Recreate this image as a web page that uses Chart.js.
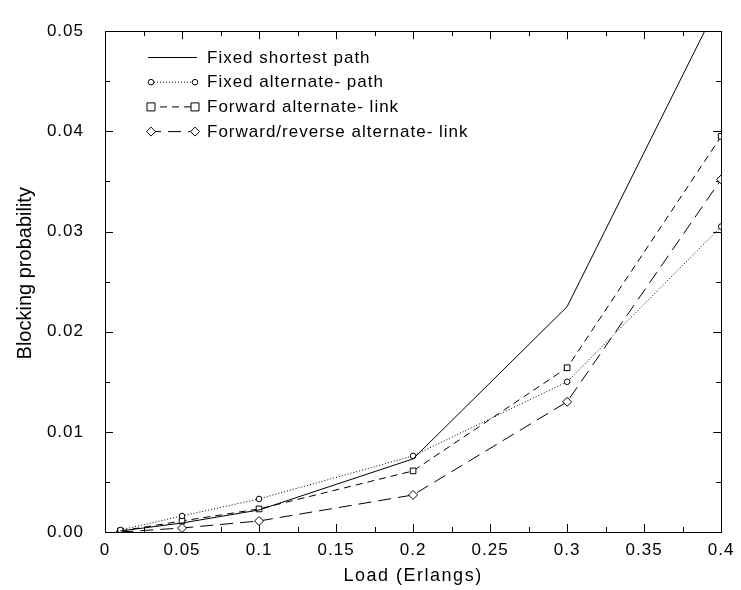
<!DOCTYPE html>
<html>
<head>
<meta charset="utf-8">
<script src="https://cdn.jsdelivr.net/npm/chart.js@4"></script>
<style>
  html, body { margin: 0; padding: 0; background: #fff; }
  canvas { display: block; }
</style>
</head>
<body>
<canvas id="chart" width="741" height="590"></canvas>
<script>
// values
const loads = [0.01, 0.05, 0.1, 0.2, 0.3, 0.4];
const fixedShortest = [0.0001, 0.0009, 0.0022, 0.0073, 0.0225, 0.0533];
const fixedAlternate = [0.0002, 0.0016, 0.0033, 0.0076, 0.0150, 0.0305];
const forwardAlternate = [0.0001, 0.0011, 0.0023, 0.0061, 0.0164, 0.0395];
const forwardReverse = [0.0000, 0.0004, 0.0011, 0.0037, 0.0130, 0.0352];
const seriesNames = [
  "Fixed shortest path",
  "Fixed alternate- path",
  "Forward alternate- link",
  "Forward/reverse alternate- link"
];

const FONT = "'Liberation Sans', Arial, sans-serif";

function pts(vals) {
  return loads.map((x, i) => ({ x: x, y: vals[i] }));
}

const base = {
  borderColor: "#000",
  borderWidth: 1,
  pointBackgroundColor: "#fff",
  pointBorderColor: "#000",
  pointBorderWidth: 1,
  tension: 0,
  fill: false
};

// frame + inward ticks (major and minor) on all four sides
const framePlugin = {
  id: "frame",
  beforeDatasetsDraw(chart) {
    const { ctx, chartArea: a, scales } = chart;
    ctx.save();
    ctx.strokeStyle = "#000";
    ctx.lineWidth = 1;
    ctx.beginPath();
    for (let k = 0; k <= 16; k++) {
      const v = k * 0.025;
      const px = Math.round(scales.x.getPixelForValue(v)) + 0.5;
      const len = k % 2 === 0 ? 8 : 5;
      ctx.moveTo(px, a.bottom); ctx.lineTo(px, a.bottom - len);
      ctx.moveTo(px, a.top); ctx.lineTo(px, a.top + len);
    }
    for (let k = 0; k <= 10; k++) {
      const v = k * 0.005;
      const py = Math.round(scales.y.getPixelForValue(v)) + 0.5;
      const len = k % 2 === 0 ? 8 : 5;
      ctx.moveTo(a.left, py); ctx.lineTo(a.left + len, py);
      ctx.moveTo(a.right, py); ctx.lineTo(a.right - len, py);
    }
    ctx.stroke();
    ctx.strokeRect(Math.round(a.left) + 0.5, Math.round(a.top) + 0.5,
      Math.round(a.right - a.left), Math.round(a.bottom - a.top));
    ctx.restore();
  }
};

function marker(ctx, style, r, x, y) {
  ctx.beginPath();
  if (style === "circle") {
    ctx.arc(x, y, r, 0, Math.PI * 2);
  } else if (style === "rect") {
    ctx.rect(x - r, y - r, r * 2, r * 2);
  } else if (style === "rectRot") {
    ctx.moveTo(x, y - r); ctx.lineTo(x + r, y); ctx.lineTo(x, y + r); ctx.lineTo(x - r, y);
    ctx.closePath();
  }
  ctx.fill();
  ctx.stroke();
}

// legend inside the plot, top left
const legendPlugin = {
  id: "insideLegend",
  afterDraw(chart) {
    const ctx = chart.ctx;
    ctx.save();
    ctx.letterSpacing = "1px";
    chart.data.datasets.forEach((ds, i) => {
      const y = 57 + i * 24.7;
      ctx.strokeStyle = "#000";
      ctx.fillStyle = "#fff";
      ctx.lineWidth = 1;
      ctx.setLineDash(ds.borderDash || []);
      ctx.beginPath();
      ctx.moveTo(148, y + 0.5);
      ctx.lineTo(197, y + 0.5);
      ctx.stroke();
      ctx.setLineDash([]);
      if (ds.pointRadius > 0) {
        marker(ctx, ds.pointStyle, ds.pointRadius, 151, y + 0.5);
        marker(ctx, ds.pointStyle, ds.pointRadius, 195, y + 0.5);
      }
      ctx.fillStyle = "#000";
      ctx.font = "17px " + FONT;
      ctx.textBaseline = "middle";
      ctx.textAlign = "left";
      ctx.fillText(ds.label, 207, y + 1);
    });
    ctx.restore();
  }
};

// spaced-out text like the original; y title unspaced, x title a bit wider
function patchTitle(scale, spacing) {
  if (scale._patched) return;
  const orig = scale.drawTitle;
  scale.drawTitle = function () {
    const c = this.ctx;
    const prev = c.letterSpacing;
    c.letterSpacing = spacing;
    orig.call(this);
    c.letterSpacing = prev;
  };
  scale._patched = true;
}

const spacingPlugin = {
  id: "spacing",
  beforeDraw(chart) {
    chart.ctx.letterSpacing = "1px";
    patchTitle(chart.scales.y, "0px");
    patchTitle(chart.scales.x, "1.5px");
  }
};

new Chart(document.getElementById("chart"), {
  type: "line",
  data: {
    datasets: [
      Object.assign({}, base, { label: seriesNames[0], data: pts(fixedShortest), pointRadius: 0 }),
      Object.assign({}, base, { label: seriesNames[1], data: pts(fixedAlternate), borderDash: [1, 2], pointStyle: "circle", pointRadius: 2.8 }),
      Object.assign({}, base, { label: seriesNames[2], data: pts(forwardAlternate), borderDash: [7, 5], pointStyle: "rect", pointRadius: 4 }),
      Object.assign({}, base, { label: seriesNames[3], data: pts(forwardReverse), borderDash: [13, 7], pointStyle: "rectRot", pointRadius: 4.5 })
    ]
  },
  options: {
    responsive: false,
    animation: false,
    devicePixelRatio: 1,
    layout: { padding: { top: 20, right: 19, bottom: 0, left: 0 } },
    plugins: { legend: { display: false }, tooltip: { enabled: false } },
    scales: {
      x: {
        type: "linear",
        min: 0,
        max: 0.4,
        grid: { display: false, drawTicks: false },
        border: { display: false },
        ticks: {
          stepSize: 0.05,
          padding: 8,
          color: "#000",
          font: { family: FONT, size: 17 },
          maxRotation: 0,
          callback: v => String(+v.toFixed(3))
        },
        title: {
          display: true,
          text: "Load (Erlangs)",
          color: "#000",
          font: { family: FONT, size: 18 },
          padding: { top: 0, bottom: 3 }
        },
        afterFit: s => { s.height = 58; }
      },
      y: {
        type: "linear",
        min: 0,
        max: 0.05,
        grid: { display: false, drawTicks: false },
        border: { display: false },
        ticks: {
          stepSize: 0.01,
          padding: 21,
          color: "#000",
          font: { family: FONT, size: 17 },
          callback: v => v.toFixed(2)
        },
        title: {
          display: true,
          text: "   Blocking probability",
          color: "#000",
          font: { family: FONT, size: 20 },
          padding: { top: 13, bottom: 0 }
        },
        afterFit: s => { s.width = 105; }
      }
    }
  },
  plugins: [spacingPlugin, framePlugin, legendPlugin]
});
</script>
</body>
</html>
